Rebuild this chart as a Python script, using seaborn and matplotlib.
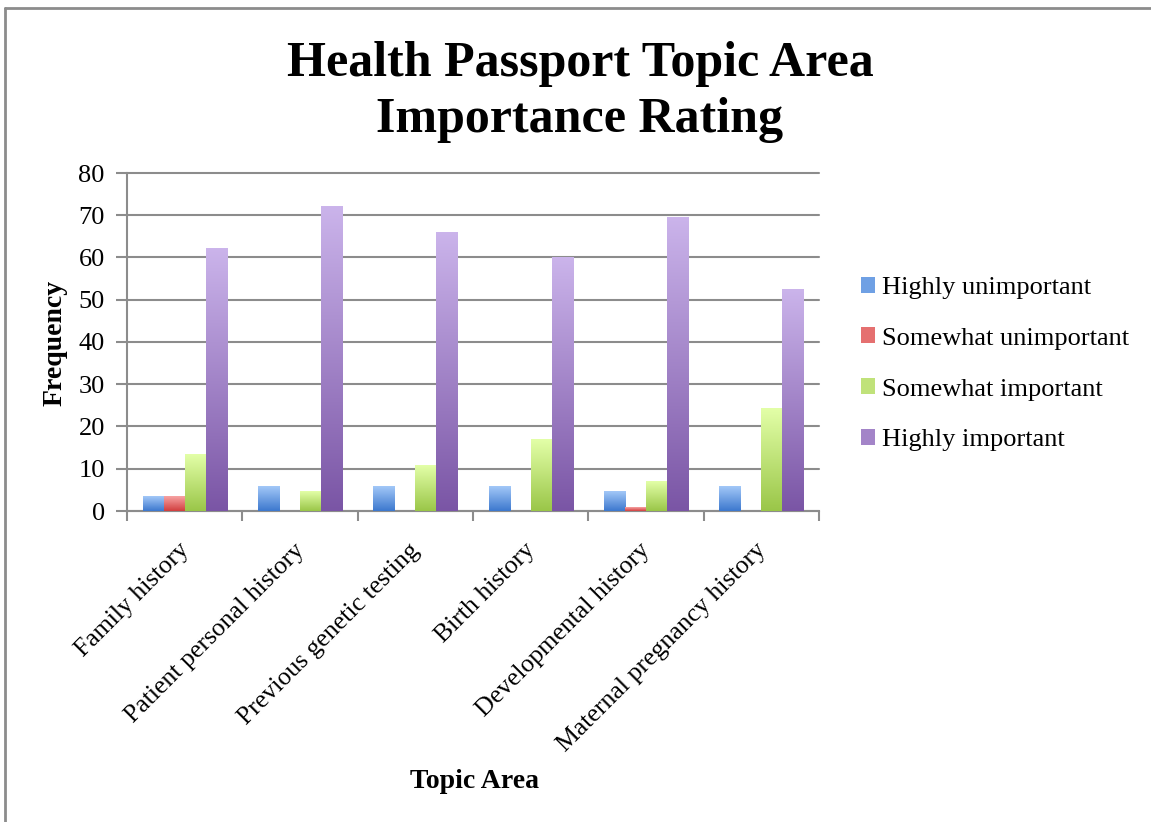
import numpy as np
import pandas as pd
import matplotlib
matplotlib.use("Agg")
import matplotlib.pyplot as plt
import seaborn as sns
from matplotlib.colors import LinearSegmentedColormap
from matplotlib.patches import Patch
from matplotlib.lines import Line2D
from matplotlib.transforms import ScaledTranslation

# ---- data ----
topics = ["Family history", "Patient personal history", "Previous genetic testing",
          "Birth history", "Developmental history", "Maternal pregnancy history"]
ratings = ["Highly unimportant", "Somewhat unimportant", "Somewhat important", "Highly important"]
highly_unimportant = [3.5, 5.7, 5.7, 5.7, 4.7, 5.7]
somewhat_unimportant = [3.5, 0, 0, 0, 0.8, 0]
somewhat_important = [13.4, 4.5, 10.7, 16.9, 6.9, 24.2]
highly_important = [62.2, 72.0, 66.0, 59.9, 69.5, 52.4]
yticks = [0, 10, 20, 30, 40, 50, 60, 70, 80]

series = [highly_unimportant, somewhat_unimportant, somewhat_important, highly_important]
df = pd.DataFrame({
    "Topic": list(topics) * 4,
    "Rating": sum([[r] * len(topics) for r in ratings], []),
    "Frequency": sum([list(s) for s in series], []),
})

tops = ["#A3C8F8", "#F7A3A3", "#E3FFA8", "#CBB4EB"]
bottoms = ["#3C78CE", "#D13E3E", "#9AC648", "#7A55A5"]
mids = ["#6FA0E4", "#E57070", "#C0E27A", "#A384C8"]

sns.set_theme(style="white")
plt.rcParams["font.family"] = ["Liberation Serif", "DejaVu Serif"]
plt.rcParams["text.color"] = "black"
plt.rcParams["xtick.color"] = "black"
plt.rcParams["ytick.color"] = "black"
plt.rcParams["xtick.labelcolor"] = "black"
plt.rcParams["ytick.labelcolor"] = "black"

fig = plt.figure(figsize=(11.51, 8.22), dpi=100)
ax = fig.add_axes([127 / 1151, 1 - 511 / 822, (819 - 127) / 1151, (511 - 173) / 822])

sns.barplot(data=df, x="Topic", y="Frequency", hue="Rating", hue_order=ratings,
            order=topics, palette=mids, width=0.73, dodge=True, ax=ax,
            legend=False, errorbar=None, saturation=1)

# vertical gradients on bars
grad = np.linspace(1, 0, 256).reshape(-1, 1)
for cont, t, b in zip(ax.containers, tops, bottoms):
    cmap = LinearSegmentedColormap.from_list("g", [b, t])
    for bar in cont:
        h = bar.get_height()
        if h <= 0:
            continue
        x0 = bar.get_x()
        w = bar.get_width()
        ax.imshow(grad, cmap=cmap, extent=[x0, x0 + w, 0, h], aspect="auto",
                  zorder=3, interpolation="bilinear", origin="upper")
        bar.set_visible(False)

ax.set_xlim(-0.5, 5.5)
ax.set_ylim(0, 80)
ax.set_yticks(yticks)
ax.yaxis.grid(True, color="#8C8C8C", linewidth=1.5)
for gl in ax.get_ygridlines():
    gl.set_clip_on(False)
ax.set_axisbelow(True)
for s in ["top", "right"]:
    ax.spines[s].set_visible(False)
for s in ["left", "bottom"]:
    ax.spines[s].set_color("#8C8C8C")
    ax.spines[s].set_linewidth(1.5)

ax.tick_params(axis="y", which="major", length=8, width=1.5, color="#8C8C8C",
               direction="out", labelsize=19, pad=8, left=True, labelcolor="black")
ax.set_xticks(range(len(topics)))
ax.set_xticklabels(topics, rotation=45, ha="right", va="center",
                   rotation_mode="anchor", fontsize=18.5, color="black")
ax.tick_params(axis="x", which="major", length=0, pad=26)
off = ScaledTranslation(1 / 100, 0, fig.dpi_scale_trans)
for lab in ax.get_xticklabels():
    lab.set_transform(lab.get_transform() + off)
ax.set_xticks(np.arange(-0.5, 6.0, 1.0), minor=True)
ax.tick_params(axis="x", which="minor", length=7, width=1.5, color="#8C8C8C",
               direction="out", bottom=True)
ax.set_xlabel("")
ax.set_ylabel("")

bold_family = ["Liberation Serif", "DejaVu Serif"]
fig.text(580 / 1151, 1 - 92 / 822, "Health Passport Topic Area\nImportance Rating",
         ha="center", va="center", fontsize=36, fontweight="bold", color="black",
         family=bold_family, linespacing=1.27, multialignment="center")
fig.text(55 / 1151, 1 - 343 / 822, "Frequency", rotation=90, ha="center", va="center",
         fontsize=20, fontweight="bold", family=bold_family, color="black")
fig.text(475 / 1151, 1 - 781 / 822, "Topic Area", ha="center", va="center",
         fontsize=20, fontweight="bold", family=bold_family, color="black")

handles = [Patch(facecolor=c, edgecolor="none") for c in mids]
fig.legend(handles, ratings, loc="center left", bbox_to_anchor=(0.748, 1 - 364 / 822),
           frameon=False, fontsize=19, handlelength=0.55, handleheight=0.55,
           handletextpad=0.25, labelspacing=1.08, borderpad=0, borderaxespad=0,
           labelcolor="black")

# outer frame (left and top edges)
fig.add_artist(Line2D([5 / 1151, 5 / 1151], [0, 1 - 8 / 822], transform=fig.transFigure,
                      color="#8C8C8C", linewidth=2))
fig.add_artist(Line2D([5 / 1151, 1], [1 - 8 / 822, 1 - 8 / 822], transform=fig.transFigure,
                      color="#8C8C8C", linewidth=2))

fig.savefig("out.png", dpi=100)
